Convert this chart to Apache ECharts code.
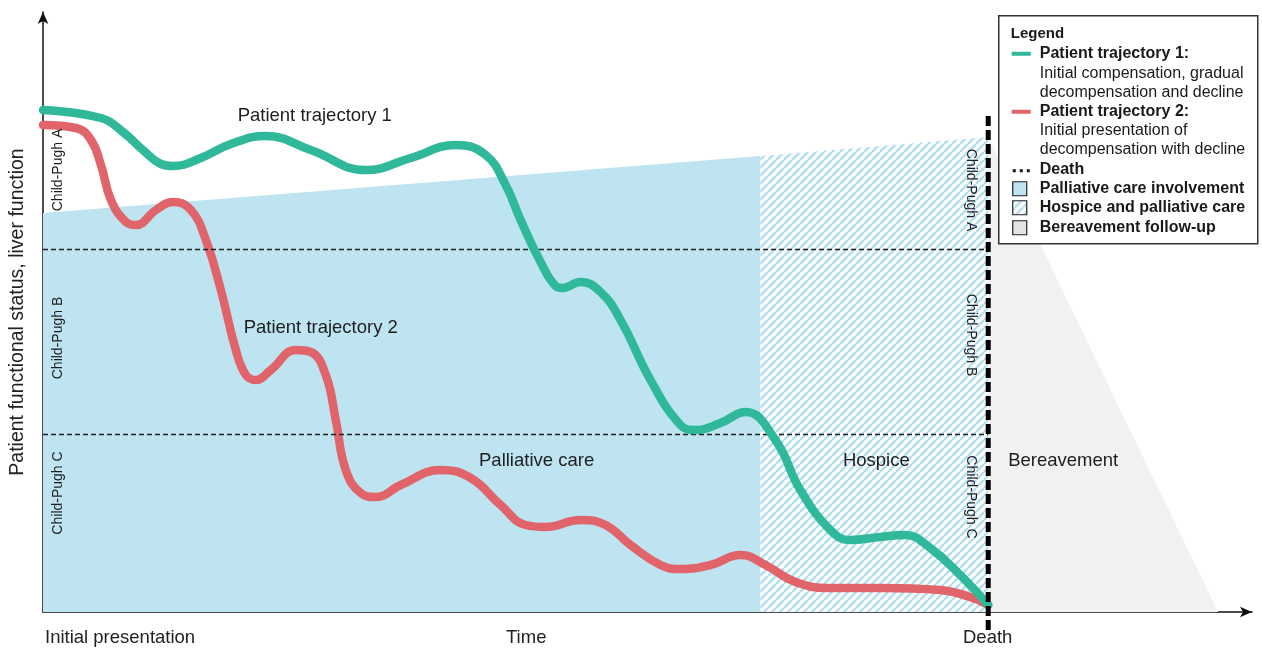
<!DOCTYPE html>
<html>
<head>
<meta charset="UTF-8">
<title>Patient trajectories</title>
<script src="https://cdn.jsdelivr.net/npm/echarts@6/dist/echarts.min.js"></script>
<style>body{margin:0;background:#fff}</style>
</head>
<body>
<div id="main" style="width:1262px;height:650px;"></div>
<script>
// time runs 0..1210, status 0..600 (arbitrary units)
var trajectory1 = [[0,502],[58,494],[80,480],[100,462],[118,448],[130,446],[158,454],[188,468],[223,476],[268,462],[323,442],[368,454],[413,467],[443,457],[463,427],[478,392],[498,350],[513,326],[520,324],[538,330],[558,320],[578,292],[608,232],[638,187],[653,182],[678,189],[703,200],[733,172],[758,122],[788,82],[808,72],[838,75],[863,77],[888,64],[918,37],[946,7]];
var trajectory2 = [[0,487],[33,484],[48,472],[58,447],[68,412],[83,390],[93,387],[113,402],[130,410],[148,402],[163,372],[178,322],[193,262],[203,237],[213,232],[228,242],[253,262],[268,260],[283,237],[293,192],[303,142],[318,119],[333,115],[358,127],[398,142],[428,134],[458,107],[483,87],[503,85],[538,92],[563,87],[588,67],[618,47],[638,43],[668,47],[698,57],[723,47],[753,30],[788,24],[838,24],[898,22],[928,15],[946,7]];
var palliativeTop = [[0,399],[718,456]];
var hospiceTop = [[718,456],[946,475]];
var bereavementTop = [[946,475],[1176,0]];
var deathLine = [[946,-18],[946,500]];
var childPughBounds = [363,178];

var T1 = '#2fb89a', T2 = '#e0646a', BLUE = '#bde4f0', GREY = '#f1f1f1';
var FONT = 'Liberation Sans, Arial, sans-serif';

// diagonal hatch for hospice
function hatch(){
  var c = document.createElement('canvas');
  c.width = 8; c.height = 8;
  var g = c.getContext('2d');
  g.fillStyle = '#fff'; g.fillRect(0,0,8,8);
  g.strokeStyle = '#b0dff0'; g.lineWidth = 2.4;
  [-8,0,8].forEach(function(o){
    g.beginPath(); g.moveTo(o,8); g.lineTo(o+8,0); g.stroke();
  });
  return c;
}
var hatchImg = hatch();

var annotations = [
  {name:'Patient trajectory 1', value:[272,496], size:18.5, rot:0},
  {name:'Patient trajectory 2', value:[278,284], size:18.5, rot:0},
  {name:'Palliative care', value:[494,151], size:18.5, rot:0},
  {name:'Hospice', value:[834,151], size:18.5, rot:0},
  {name:'Bereavement', value:[1021,151], size:18.5, rot:0},
  {name:'Child-Pugh A', value:[15,442], size:14, rot:90},
  {name:'Child-Pugh B', value:[15,274], size:14, rot:90},
  {name:'Child-Pugh C', value:[15,119], size:14, rot:90},
  {name:'Child-Pugh A', value:[929,422], size:14, rot:-90},
  {name:'Child-Pugh B', value:[929,277], size:14, rot:-90},
  {name:'Child-Pugh C', value:[929,115], size:14, rot:-90}
];

var myChart = echarts.init(document.getElementById('main'));

function legendRow(y, text, bold){
  return {type:'text', z:101, x:41, y:y, style:{text:text, font:(bold?'bold ':'')+'16px '+FONT, fill:'#1a1a1a', verticalAlign:'middle'}};
}
function swatch(y, fill){
  return {type:'rect', z:101, shape:{x:14,y:y-7,width:14,height:14}, style:{fill:fill, stroke:'#222', lineWidth:1.2}};
}
var legendChildren = [
  {type:'rect', z:100, shape:{x:0,y:0,width:259,height:228}, style:{fill:'#fff', stroke:'#333', lineWidth:1.5}},
  {type:'text', z:101, x:12, y:18, style:{text:'Legend', font:'bold 15px '+FONT, fill:'#1a1a1a', verticalAlign:'middle'}},
  {type:'rect', z:101, shape:{x:13,y:36,width:19,height:4}, style:{fill:T1}},
  legendRow(38,'Patient trajectory 1:',true),
  legendRow(58,'Initial compensation, gradual',false),
  legendRow(77,'decompensation and decline',false),
  {type:'rect', z:101, shape:{x:13,y:94,width:19,height:4}, style:{fill:T2}},
  legendRow(96,'Patient trajectory 2:',true),
  legendRow(115,'Initial presentation of',false),
  legendRow(134,'decompensation with decline',false),
  {type:'line', z:101, shape:{x1:14,y1:155,x2:32,y2:155}, style:{stroke:'#111', lineWidth:3, lineDash:[3,4]}},
  legendRow(154,'Death',true),
  swatch(173, BLUE),
  legendRow(173,'Palliative care involvement',true),
  swatch(192, {image:hatchImg, repeat:'repeat'}),
  legendRow(192,'Hospice and palliative care',true),
  swatch(212, '#e3e3e3'),
  legendRow(212,'Bereavement follow-up',true)
];

var option = {
  animation:false,
  grid:{left:42, right:10, top:12, bottom:38},
  xAxis:{
    type:'value', min:0, max:1210,
    axisLine:{lineStyle:{color:'#111', width:1.5}, symbol:['none','arrow'], symbolSize:[8,12]},
    axisTick:{show:false}, axisLabel:{show:false}, splitLine:{show:false}
  },
  yAxis:{
    type:'value', min:0, max:600,
    name:'Patient functional status, liver function',
    nameLocation:'middle', nameGap:15,
    nameTextStyle:{fontSize:19.5, fontFamily:FONT, color:'#222'},
    axisLine:{show:true, lineStyle:{color:'#111', width:1.5}, symbol:['none','arrow'], symbolSize:[8,12]},
    axisTick:{show:false}, axisLabel:{show:false}, splitLine:{show:false}
  },
  graphic:[
    {type:'text', left:45, top:628, style:{text:'Initial presentation', font:'18.5px '+FONT, fill:'#222'}},
    {type:'text', left:506, top:628, style:{text:'Time', font:'18.5px '+FONT, fill:'#222'}},
    {type:'text', left:963, top:628, style:{text:'Death', font:'18.5px '+FONT, fill:'#222'}},
    {type:'group', left:998, top:15, z:100, children:legendChildren}
  ],
  series:[
    {type:'line', data:bereavementTop, symbol:'none', lineStyle:{width:0}, areaStyle:{color:GREY, opacity:1}, z:1},
    {type:'line', data:palliativeTop, symbol:'none', lineStyle:{width:0}, areaStyle:{color:BLUE, opacity:1}, z:1},
    {type:'line', data:hospiceTop, symbol:'none', lineStyle:{width:0}, areaStyle:{color:{image:hatchImg, repeat:'repeat'}, opacity:1}, z:1},
    {type:'line', data:[], symbol:'none',
      markLine:{silent:true, symbol:'none', label:{show:false},
        lineStyle:{color:'#222', type:[5,3], width:1.3},
        data:childPughBounds.map(function(v){return [{coord:[0,v]},{coord:[946,v]}];})}, z:2},
    {type:'line', data:trajectory2, smooth:0.45, symbol:'none', lineStyle:{color:T2, width:8.5, cap:'round'}, z:4},
    {type:'line', data:trajectory1, smooth:0.45, symbol:'none', lineStyle:{color:T1, width:8.5, cap:'round'}, z:5},
    {type:'line', data:deathLine, clip:false, symbol:'none', lineStyle:{color:'#000', width:5, type:[10,4]}, z:6},
    {type:'scatter', symbolSize:0, z:7, itemStyle:{opacity:1},
      data:annotations.map(function(a){
        return {name:a.name, value:a.value,
          label:{show:true, position:'inside', formatter:'{b}', rotate:a.rot, fontSize:a.size, fontFamily:FONT, color:'#1e1e1e', opacity:1}};
      })}
  ]
};
myChart.setOption(option);
</script>
</body>
</html>
